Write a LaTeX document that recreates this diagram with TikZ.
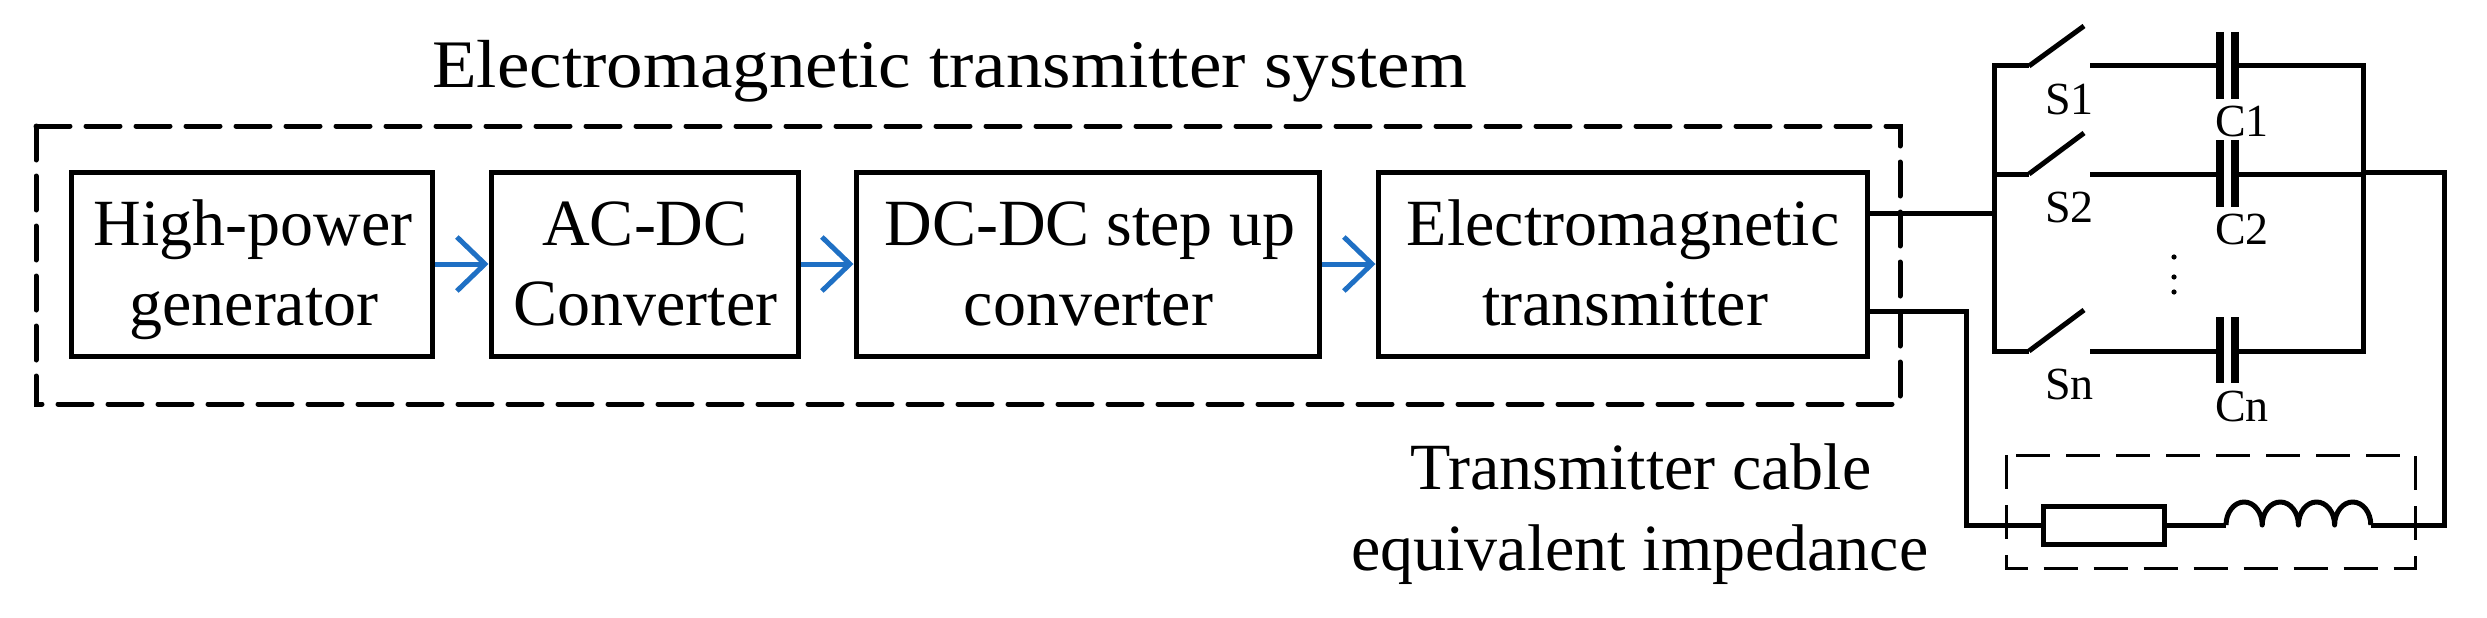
\documentclass[tikz,border=0pt]{standalone}
\usepackage{graphicx}
\usepackage{fontspec}
\setmainfont{Liberation Serif}
\usetikzlibrary{arrows.meta}
\definecolor{arrowblue}{HTML}{1F70C4}
\tikzset{
  x=1pt,y=-1pt,
  wire/.style={line width=5pt,line join=miter},
  blockbox/.style={draw,line width=5pt,minimum height=184pt,inner sep=0pt},
  flow/.style={draw=arrowblue,line width=5pt,-{Straight Barb[length=28pt,width=54pt,line width=5pt]}},
  bigdash/.style={draw,line width=5pt,dash pattern=on 34pt off 16pt,line cap=round},
  thindash/.style={draw,line width=3pt,dash pattern=on 34pt off 16pt},
  plate/.style={line width=8pt},
  blabel/.style={anchor=base,align=center,font=\fontsize{66pt}{80pt}\selectfont,inner sep=0pt},
  title/.style={anchor=base west,font=\fontsize{66pt}{80pt}\selectfont,inner sep=0pt},
  small/.style={anchor=base west,font=\fontsize{46pt}{46pt}\selectfont,inner sep=0pt},
}
\begin{document}
\begin{tikzpicture}
\useasboundingbox (0,0) rectangle (2487,618);
% outer dashed frame and title
\draw[bigdash] (36,126) rectangle (1900,404);
\node[title,font=\fontsize{68pt}{80pt}\selectfont] (systitle) at (432,88) {\scalebox{1.0745}[1]{Electromagnetic transmitter system}};
% blocks
\node[blockbox,minimum width=361pt] (gen) at (251.5,264) {};
\node[blockbox,minimum width=307pt] (acdc) at (644.5,264) {};
\node[blockbox,minimum width=463pt] (dcdc) at (1087.5,264) {};
\node[blockbox,minimum width=489pt] (emt) at (1622.5,264) {};
\node[blabel] (t1a) at (253,245) {High-power};
\node[blabel] (t1b) at (254,325) {generator};
\node[blabel] (t2a) at (645,245) {AC-DC};
\node[blabel] (t2b) at (645.5,325) {Converter};
\node[blabel] (t3a) at (1090,245) {DC-DC step up};
\node[blabel] (t3b) at (1088.5,325) {converter};
\node[blabel] (t4a) at (1623,245) {Electromagnetic};
\node[blabel] (t4b) at (1625,325) {transmitter};
% arrows
\draw[flow] (gen.east) -- (acdc.west);
\draw[flow] (acdc.east) -- (dcdc.west);
\draw[flow] (dcdc.east) -- (emt.west);
% switch branches
\coordinate (busT) at (1994,66);
\coordinate (busB) at (1994,351);
\coordinate (rbusT) at (2363,66);
\coordinate (rbusB) at (2363,351);
\coordinate (tap) at (1994,213);
\coordinate (emtU) at (1867,213);
\coordinate (emtL) at (1867,311);
\coordinate (rtap) at (2363,172);
\draw[wire] (emtU) -- (tap);
\draw[wire] (2029,66) -- (busT) -- (busB) -- (2029,351);
\draw[wire] (1994,174) -- (2029,174);
% switches
\draw[wire] (2029,66) -- (2084,26);
\draw[wire] (2029,174) -- (2084,133);
\draw[wire] (2029,351) -- (2084,310);
% right of the switches
\draw[wire] (2090,66) -- (2219,66);
\draw[wire] (2090,174) -- (2219,174);
\draw[wire] (2090,351) -- (2219,351);
\draw[wire] (2235,66) -- (rbusT) -- (rbusB) -- (2235,351);
\draw[wire] (2235,174) -- (2363,174);
% capacitors
\foreach \px in {2219.5,2234.5}{
  \draw[plate] (\px,32) -- (\px,99);
  \draw[plate] (\px,140) -- (\px,207);
  \draw[plate] (\px,317) -- (\px,383);
}
% labels
\node[small] (s1) at (2045,114) {S1};
\node[small] (s2) at (2045,222) {S2};
\node[small] (sn) at (2045,399) {Sn};
\node[small] (c1) at (2215,136) {C1};
\node[small] (c2) at (2215,244) {C2};
\node[small] (cn) at (2215,421) {Cn};
\fill (2174,257) circle (2.6pt) (2174,277) circle (2.6pt) (2174,292) circle (2.6pt);
% cable branch
\node[draw,line width=5pt,minimum width=121pt,minimum height=38pt,inner sep=0pt] (res) at (2103.5,525) {};
\coordinate (cableL) at (1966,525);
\coordinate (indL) at (2226,525);
\coordinate (indR) at (2371,525);
\coordinate (outR) at (2444,525);
\draw[wire] (emtL) -- (1966,311) -- (cableL) -- (res.west);
\draw[wire] (res.east) -- (indL);
\draw[wire,line join=round] (indL) arc[start angle=180,end angle=0,x radius=18.1pt,y radius=23pt]
  arc[start angle=180,end angle=0,x radius=18.1pt,y radius=23pt]
  arc[start angle=180,end angle=0,x radius=18.1pt,y radius=23pt]
  arc[start angle=180,end angle=0,x radius=18.1pt,y radius=23pt];
\draw[wire] (indR) -- (outR) -- (2444,172) -- (rtap);
\draw[thindash] (2006.5,455) rectangle (2415,568);
\node[title] (cab1) at (1410,489) {Transmitter cable};
\node[title] (cab2) at (1351,570) {equivalent impedance};
\end{tikzpicture}
\end{document}
